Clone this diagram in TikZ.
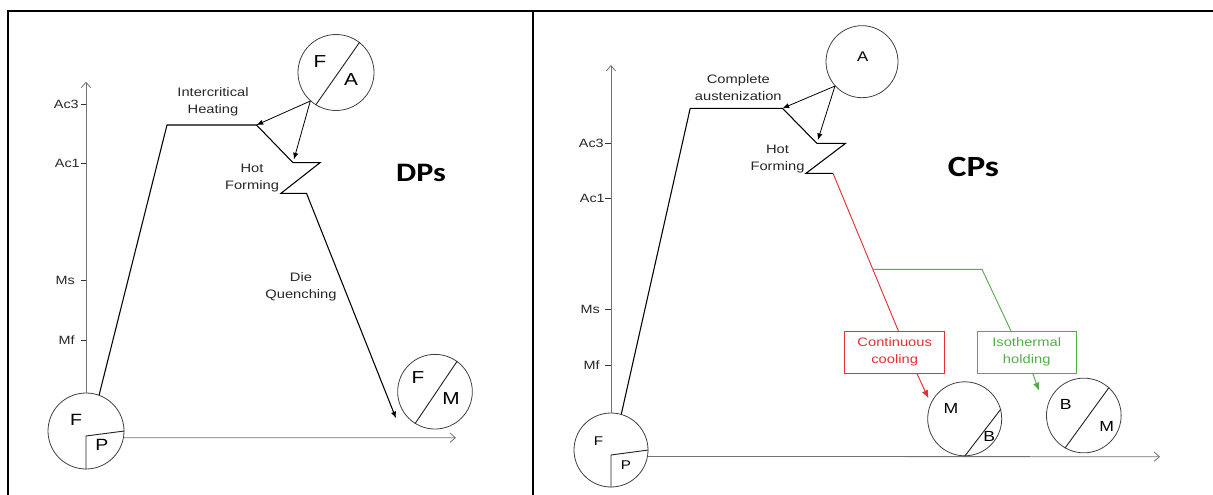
\documentclass[tikz,border=0pt]{standalone}
\usepackage{fontspec}
\setmainfont{Liberation Sans}[FakeStretch=1.2]
\newfontfamily\dpfont{Carlito}[FakeStretch=1.2]
\usetikzlibrary{arrows.meta}
\definecolor{cred}{RGB}{228,48,52}
\definecolor{cgreen}{RGB}{84,172,72}
\begin{document}
\begin{tikzpicture}[x=0.75pt,y=-0.75pt,
  frame/.style={draw=black,line width=1.6pt},
  axis/.style={draw=black!55,line width=0.6pt,-{Straight Barb[length=4pt,width=7pt]}},
  tickline/.style={draw=black!80,line width=0.6pt},
  ticklbl/.style={anchor=east,inner sep=0pt,font=\fontsize{9}{10}\selectfont,text=black!85},
  curve/.style={draw=black,line width=0.8pt},
  phase/.style={circle,draw=black!75,line width=0.6pt,minimum size=#1,inner sep=0pt},
  phase/.default=57pt,
  divline/.style={draw=black!85,line width=0.7pt},
  lbl/.style={align=center,inner sep=0pt,font=\fontsize{9.2}{12.75}\selectfont,text=black!85},
  bigl/.style={inner sep=0pt,font=\fontsize{13}{13}\selectfont},
  midl/.style={inner sep=0pt,font=\fontsize{10.5}{10.5}\selectfont},
  arr/.style={draw=black,line width=0.6pt,-{Latex[length=5pt,width=4pt]}},
  boxr/.style={draw=cred,line width=0.7pt,minimum width=75pt,minimum height=31.7pt,inner sep=0pt,align=center,text=cred,font=\fontsize{9.2}{12.75}\selectfont},
  boxg/.style={draw=cgreen,line width=0.7pt,minimum width=74.6pt,minimum height=31.7pt,inner sep=0pt,align=center,text=cgreen,font=\fontsize{9.2}{12.75}\selectfont},
  title/.style={inner sep=0pt,font=\dpfont\bfseries\fontsize{20}{20}\selectfont}
]
\useasboundingbox (0,0) rectangle (1213,495);
% frame
\draw[frame] (7.6,495) -- (7.6,11) -- (1213,11);
\draw[frame] (533,11) -- (533,495);

% ================= LEFT PANEL (DPs) =================
\node[phase] (fp1) at (86,431) {};
\draw[divline] (fp1.south) -- (86,436) -- (fp1.east);
\node[bigl,font=\fontsize{12.2}{12.2}\selectfont] (fp1F) at (76,420) {F};
\node[bigl,font=\fontsize{12.2}{12.2}\selectfont] (fp1P) at (102,445) {P};
\draw[axis] (fp1.north) -- (86,81.7);
\draw[axis] (fp1.-10) -- (456,437.7);
\node[ticklbl] (lac3) at (79,104) {Ac3};
\node[ticklbl] (lac1) at (80,163) {Ac1};
\node[ticklbl] (lms) at (75,280) {Ms};
\node[ticklbl] (lmf) at (75,340) {Mf};
\draw[tickline] (81,104) -- (86,104);
\draw[tickline] (81,163) -- (86,163);
\draw[tickline] (81,280) -- (86,280);
\draw[tickline] (81,340) -- (86,340);

\coordinate (l1) at (167,125);
\coordinate (l2) at (256.5,125);
\coordinate (l3) at (293,162.7);
\coordinate (l4) at (320,162.7);
\coordinate (l5) at (281,193.3);
\coordinate (l6) at (306.5,193.3);
\coordinate (l7) at (396,418.3);
\draw[curve,-{Latex[length=5pt,width=4pt]}] (fp1.70) -- (l1) -- (l2) -- (l3) -- (l4) -- (l5) -- (l6) -- (l7);

\node[phase] (fa) at (336,72.5) {};
\draw[divline] (fa.52) -- (fa.238);
\node[bigl] (faF) at (320,61.7) {F};
\node[bigl] (faA) at (351,80) {A};
\draw[arr] (fa.228) -- (l2);
\draw[arr,shorten >=2.5pt] (fa.228) -- (l3);

\node[phase=56pt] (fm) at (435,391.7) {};
\draw[divline] (fm.54) -- (fm.238);
\node[bigl] (fmF) at (418,378) {F};
\node[bigl] (fmM) at (451,399) {M};

\node[lbl] (tih) at (213,101.5) {Intercritical\\Heating};
\node[lbl] (thf1) at (252,178.5) {Hot\\Forming};
\node[lbl] (tdq) at (301,287) {Die\\Quenching};
\node[title] (tdp) at (421,173) {DPs};

% ================= RIGHT PANEL (CPs) =================
\node[phase=55.5pt] (fp2) at (611,450) {};
\draw[divline] (fp2.south) -- (611,455) -- (fp2.east);
\node[midl,font=\fontsize{9.5}{9.5}\selectfont] (fp2F) at (598.5,441.5) {F};
\node[midl,font=\fontsize{9.5}{9.5}\selectfont] (fp2P) at (626,465) {P};
\draw[axis] (fp2.north) -- (611,65);
\draw[axis] (fp2.-10) -- (1160,456.7);
\node[ticklbl] (rac3) at (604,143.3) {Ac3};
\node[ticklbl] (rac1) at (605,198.3) {Ac1};
\node[ticklbl] (rms) at (600,309.3) {Ms};
\node[ticklbl] (rmf) at (600,365) {Mf};
\draw[tickline] (605,143.3) -- (611,143.3);
\draw[tickline] (605,198.3) -- (611,198.3);
\draw[tickline] (605,309.3) -- (611,309.3);
\draw[tickline] (605,365) -- (611,365);

\coordinate (r1) at (690.2,108.3);
\coordinate (r2) at (782.5,108.3);
\coordinate (r3) at (816.8,143.3);
\coordinate (r4) at (845.6,143.3);
\coordinate (r5) at (806,173.3);
\coordinate (r6) at (833,173.3);
\draw[curve] (fp2.74) -- (r1) -- (r2) -- (r3) -- (r4) -- (r5) -- (r6);

\node[phase=54pt] (ac) at (862,61.7) {};
\node[midl] (acA) at (862.7,56.7) {A};
\draw[arr] (ac.222) -- (r2);
\draw[arr,shorten >=2.5pt] (ac.222) -- (r3);

\node[lbl] (tca) at (738.3,88) {Complete\\austenization};
\node[lbl] (thf2) at (777.5,159.2) {Hot\\Forming};
\node[title,font=\dpfont\bfseries\fontsize{22}{22}\selectfont] (tcp) at (973.5,166.7) {CPs};

\node[boxr] (cc) at (894.7,352.2) {Continuous\\cooling};
\node[boxg] (ih) at (1026.7,352.2) {Isothermal\\holding};

\coordinate (rtop) at (898.4,331);
\draw[draw=cred,line width=0.7pt] (r6) -- (rtop);
\path (r6) -- (rtop) coordinate[pos=0.609] (g0);
\coordinate (g1) at (982,269.3);
\coordinate (gtop) at (1011,331);
\draw[draw=cgreen,line width=0.7pt] (g0) -- (g1) -- (gtop);

\node[phase=55.5pt] (mb) at (964.7,418.8) {};
\draw[divline] (mb.15) -- (mb.270);
\node[midl,font=\fontsize{11}{11}\selectfont] (mbM) at (951,408.3) {M};
\node[midl,font=\fontsize{11}{11}\selectfont] (mbB) at (989.3,436.7) {B};

\node[phase=56pt] (bm) at (1083.8,415.5) {};
\draw[divline] (bm.48) -- (bm.240);
\node[midl,font=\fontsize{11}{11}\selectfont] (bmB) at (1065.7,404) {B};
\node[midl,font=\fontsize{11}{11}\selectfont] (bmM) at (1106.7,426.7) {M};

\coordinate (ra) at (916.8,373.3);
\coordinate (rb) at (928.4,398.3);
\draw[draw=cred,line width=0.7pt,-{Latex[length=6pt,width=5pt]}] (ra) -- (rb);
\coordinate (ga) at (1032.7,373.3);
\coordinate (gb) at (1039,390.7);
\draw[draw=cgreen,line width=0.7pt,-{Latex[length=6pt,width=5pt]}] (ga) -- (gb);
\end{tikzpicture}
\end{document}
